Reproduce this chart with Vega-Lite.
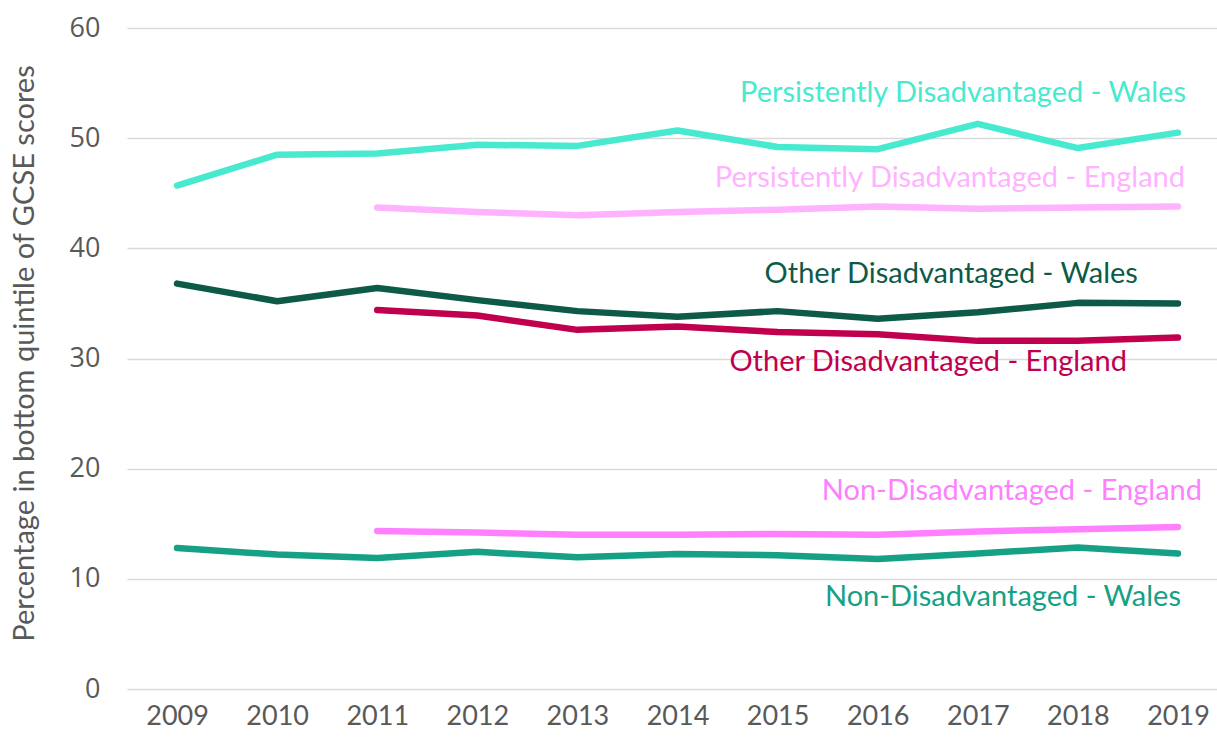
{
  "$schema": "https://vega.github.io/schema/vega-lite/v6.json",
  "width": 1090,
  "height": 661,
  "autosize": "none",
  "padding": {"left": 127, "top": 28, "right": 0, "bottom": 53},
  "background": "white",
  "config": {"view": {"stroke": null}},
  "datasets": {
    "series": [
      {"series": "PD Wales", "year": 2009, "value": 45.7},
      {"series": "PD Wales", "year": 2010, "value": 48.5},
      {"series": "PD Wales", "year": 2011, "value": 48.6},
      {"series": "PD Wales", "year": 2012, "value": 49.4},
      {"series": "PD Wales", "year": 2013, "value": 49.3},
      {"series": "PD Wales", "year": 2014, "value": 50.7},
      {"series": "PD Wales", "year": 2015, "value": 49.2},
      {"series": "PD Wales", "year": 2016, "value": 49.0},
      {"series": "PD Wales", "year": 2017, "value": 51.3},
      {"series": "PD Wales", "year": 2018, "value": 49.1},
      {"series": "PD Wales", "year": 2019, "value": 50.5},
      {"series": "PD England", "year": 2011, "value": 43.7},
      {"series": "PD England", "year": 2012, "value": 43.3},
      {"series": "PD England", "year": 2013, "value": 43.0},
      {"series": "PD England", "year": 2014, "value": 43.3},
      {"series": "PD England", "year": 2015, "value": 43.5},
      {"series": "PD England", "year": 2016, "value": 43.8},
      {"series": "PD England", "year": 2017, "value": 43.6},
      {"series": "PD England", "year": 2018, "value": 43.7},
      {"series": "PD England", "year": 2019, "value": 43.8},
      {"series": "OD Wales", "year": 2009, "value": 36.8},
      {"series": "OD Wales", "year": 2010, "value": 35.2},
      {"series": "OD Wales", "year": 2011, "value": 36.4},
      {"series": "OD Wales", "year": 2012, "value": 35.3},
      {"series": "OD Wales", "year": 2013, "value": 34.3},
      {"series": "OD Wales", "year": 2014, "value": 33.8},
      {"series": "OD Wales", "year": 2015, "value": 34.3},
      {"series": "OD Wales", "year": 2016, "value": 33.6},
      {"series": "OD Wales", "year": 2017, "value": 34.2},
      {"series": "OD Wales", "year": 2018, "value": 35.05},
      {"series": "OD Wales", "year": 2019, "value": 35.0},
      {"series": "OD England", "year": 2011, "value": 34.4},
      {"series": "OD England", "year": 2012, "value": 33.9},
      {"series": "OD England", "year": 2013, "value": 32.6},
      {"series": "OD England", "year": 2014, "value": 32.9},
      {"series": "OD England", "year": 2015, "value": 32.4},
      {"series": "OD England", "year": 2016, "value": 32.2},
      {"series": "OD England", "year": 2017, "value": 31.6},
      {"series": "OD England", "year": 2018, "value": 31.6},
      {"series": "OD England", "year": 2019, "value": 31.9},
      {"series": "ND England", "year": 2011, "value": 14.35},
      {"series": "ND England", "year": 2012, "value": 14.2},
      {"series": "ND England", "year": 2013, "value": 14.0},
      {"series": "ND England", "year": 2014, "value": 14.0},
      {"series": "ND England", "year": 2015, "value": 14.07},
      {"series": "ND England", "year": 2016, "value": 14.0},
      {"series": "ND England", "year": 2017, "value": 14.3},
      {"series": "ND England", "year": 2018, "value": 14.5},
      {"series": "ND England", "year": 2019, "value": 14.7},
      {"series": "ND Wales", "year": 2009, "value": 12.8},
      {"series": "ND Wales", "year": 2010, "value": 12.2},
      {"series": "ND Wales", "year": 2011, "value": 11.9},
      {"series": "ND Wales", "year": 2012, "value": 12.45},
      {"series": "ND Wales", "year": 2013, "value": 11.95},
      {"series": "ND Wales", "year": 2014, "value": 12.25},
      {"series": "ND Wales", "year": 2015, "value": 12.15},
      {"series": "ND Wales", "year": 2016, "value": 11.8},
      {"series": "ND Wales", "year": 2017, "value": 12.3},
      {"series": "ND Wales", "year": 2018, "value": 12.85},
      {"series": "ND Wales", "year": 2019, "value": 12.3}
    ],
    "labels": [
      {"series": "PD Wales", "text": "Persistently Disadvantaged - Wales", "year": 2019.08, "value": 54.1},
      {"series": "PD England", "text": "Persistently Disadvantaged - England", "year": 2019.07, "value": 46.4},
      {"series": "OD Wales", "text": "Other Disadvantaged - Wales", "year": 2018.6, "value": 37.66},
      {"series": "OD England", "text": "Other Disadvantaged - England", "year": 2018.49, "value": 29.67},
      {"series": "ND England", "text": "Non-Disadvantaged - England", "year": 2019.24, "value": 17.97},
      {"series": "ND Wales", "text": "Non-Disadvantaged - Wales", "year": 2019.03, "value": 8.35}
    ]
  },
  "layer": [
    {
      "data": {"name": "series"},
      "mark": {"type": "line", "strokeWidth": 6.5, "strokeCap": "round", "strokeJoin": "round"},
      "encoding": {
        "x": {
          "field": "year", "type": "quantitative",
          "scale": {"domain": [2008.5, 2019.39], "nice": false, "zero": false},
          "axis": {
            "values": [2009, 2010, 2011, 2012, 2013, 2014, 2015, 2016, 2017, 2018, 2019],
            "format": "d", "title": null, "grid": false, "domain": false, "ticks": false,
            "labelFont": "Lato", "labelFontSize": 27, "labelColor": "#595959",
            "labelPadding": 14, "labelFlush": false
          }
        },
        "y": {
          "field": "value", "type": "quantitative",
          "scale": {"domain": [0, 60], "nice": false},
          "axis": {
            "values": [0, 10, 20, 30, 40, 50, 60],
            "title": "Percentage in bottom quintile of GCSE scores",
            "titleFont": "Lato", "titleFontSize": 29, "titleFontWeight": "normal",
            "titleColor": "#595959", "titleX": -88, "titleY": 325,
            "grid": true, "gridColor": "#D9D9D9", "gridWidth": 1.5,
            "domain": false, "ticks": false,
            "labelFont": "Open Sans", "labelFontSize": 27, "labelColor": "#595959",
            "labelPadding": 27
          }
        },
        "color": {
          "field": "series", "type": "nominal",
          "scale": {
            "domain": ["PD Wales", "PD England", "OD Wales", "OD England", "ND England", "ND Wales"],
            "range": ["#48EACF", "#FFB3FF", "#0E5A48", "#C0004E", "#FF80FF", "#16A085"]
          },
          "legend": null
        }
      }
    },
    {
      "data": {"name": "labels"},
      "mark": {"type": "text", "align": "right", "baseline": "middle", "font": "Lato", "fontSize": 29},
      "encoding": {
        "x": {"field": "year", "type": "quantitative"},
        "y": {"field": "value", "type": "quantitative"},
        "text": {"field": "text"},
        "color": {"field": "series", "type": "nominal", "legend": null}
      }
    }
  ]
}
